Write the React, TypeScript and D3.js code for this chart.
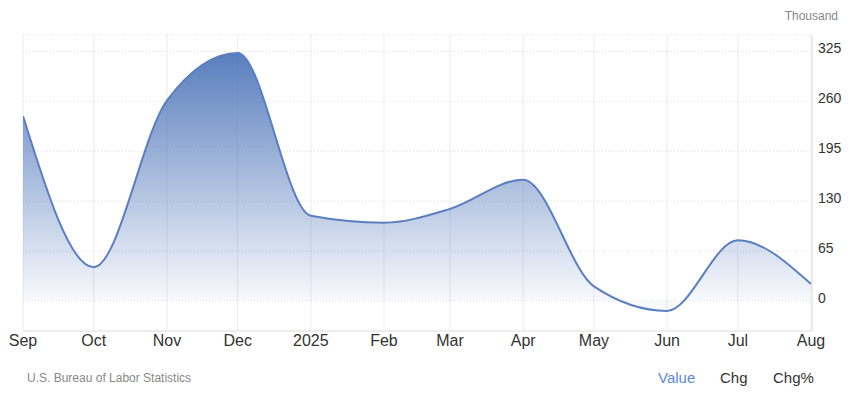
import React from "react";
import * as d3 from "d3";

const months = ["2024-09-01","2024-10-01","2024-11-01","2024-12-01","2025-01-01","2025-02-01","2025-03-01","2025-04-01","2025-05-01","2025-06-01","2025-07-01","2025-08-01"];
const monthLabels = ["Sep","Oct","Nov","Dec","2025","Feb","Mar","Apr","May","Jun","Jul","Aug"];
const values = [241, 44, 261, 323, 111, 102, 120, 158, 19, -13, 79, 22];
const yTicks = [0, 65, 130, 195, 260, 325];

const W = 852, H = 407;
const left = 23, right = 812, top = 35, bottom = 331;

export default function App() {
  const parse = d3.timeParse("%Y-%m-%d");
  const dates = months.map((m) => parse(m) as Date);
  const x = d3.scaleTime().domain([dates[0], dates[dates.length - 1]]).range([left, right - 1]);
  const y = d3.scaleLinear().domain([0, 325]).range([301, 51.5]);
  const data = dates.map((d, i) => ({ d, v: values[i] }));
  const line = d3.line<any>().x((p) => x(p.d)).y((p) => y(p.v)).curve(d3.curveMonotoneX);
  const area = d3.area<any>().x((p) => x(p.d)).y0(y(0)).y1((p) => y(p.v)).curve(d3.curveMonotoneX);

  return (
    <svg width={W} height={H} style={{ position: "absolute", left: 0, top: 0, fontFamily: "Arial, 'Liberation Sans', sans-serif" }}>
      <defs>
        <linearGradient id="g" gradientUnits="userSpaceOnUse" x1="0" y1={y(325)} x2="0" y2={y(0)}>
          <stop offset="0" stopColor="#4f77ba" stopOpacity={0.95} />
          <stop offset="1" stopColor="#4f77ba" stopOpacity={0.04} />
        </linearGradient>
        <clipPath id="c"><rect x={left} y={top} width={right - left} height={bottom - top} /></clipPath>
      </defs>
      <rect x={0} y={0} width={W} height={H} fill="#fff" />
      <text x={838} y={20} textAnchor="end" fontSize={12} fill="#888">Thousand</text>
      {dates.map((d, i) => (
        <line key={"v" + i} x1={x(d)} x2={x(d)} y1={top} y2={bottom} stroke="#ececec" strokeWidth={1} />
      ))}
      <line x1={left} x2={right} y1={top} y2={top} stroke="#e0e0e0" strokeDasharray="1,2" />
      {yTicks.map((t) => (
        <line key={"h" + t} x1={left} x2={right} y1={y(t)} y2={y(t)} stroke="#e0e0e0" strokeDasharray="1,2" />
      ))}
      <line x1={right} x2={right} y1={top} y2={bottom} stroke="#dcdcdc" />
      <line x1={left} x2={right} y1={bottom} y2={bottom} stroke="#dcdcdc" />
      <g clipPath="url(#c)">
        <path d={area(data) as string} fill="url(#g)" />
        <path d={line(data) as string} fill="none" stroke="#5a7fc0" strokeWidth={2} />
      </g>
      {yTicks.map((t) => (
        <text key={"yl" + t} x={818} y={y(t) - 2} fontSize={14} fill="#333" dominantBaseline="middle">{t}</text>
      ))}
      {dates.map((d, i) => (
        <text key={"xl" + i} x={x(d)} y={346} fontSize={16} fill="#333" textAnchor="middle">{monthLabels[i]}</text>
      ))}
      <text x={27} y={382} fontSize={12} fill="#888">U.S. Bureau of Labor Statistics</text>
      <text x={658} y={383} fontSize={15} fill="#5b8ad6">Value</text>
      <text x={720} y={383} fontSize={15} fill="#333">Chg</text>
      <text x={773} y={383} fontSize={15} fill="#333">Chg%</text>
    </svg>
  );
}
